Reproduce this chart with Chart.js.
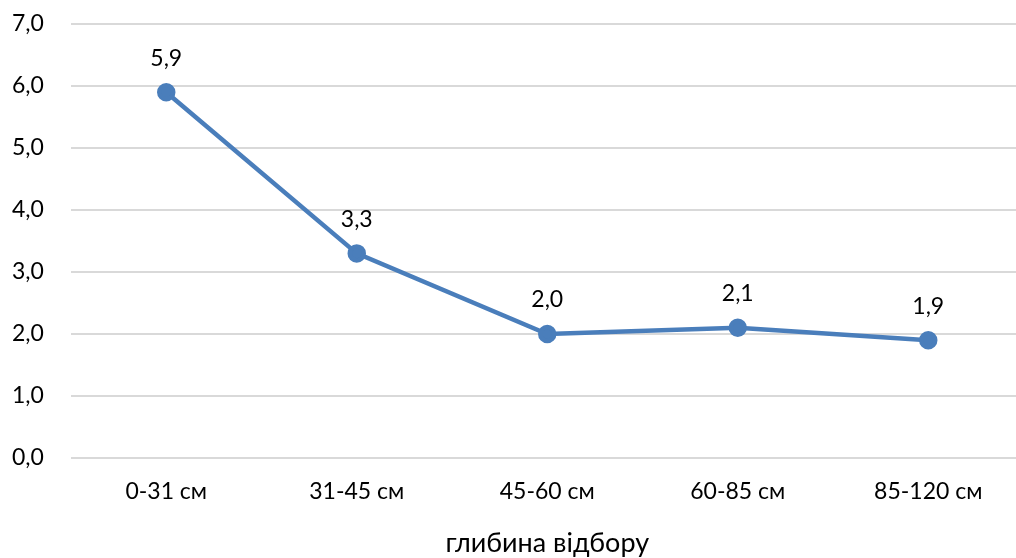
<!DOCTYPE html>
<html><head><meta charset="utf-8">
<script src="https://cdn.jsdelivr.net/npm/chart.js@4/dist/chart.umd.min.js"></script>
<style>html,body{margin:0;padding:0;overflow:hidden;background:#fff}#wrap{width:1035px;height:561px;position:relative}</style>
</head><body><div id="wrap"><canvas id="c"></canvas></div>
<script>
const categories = ['0-31 см', '31-45 см', '45-60 см', '60-85 см', '85-120 см'];
const values = [5.9, 3.3, 2.0, 2.1, 1.9];
const yTicks = [0, 1, 2, 3, 4, 5, 6, 7];
const xTitle = 'глибина відбору';
const fmt = v => v.toFixed(1).replace('.', ',');
const FONT = 'Lato, "Open Sans", sans-serif';

const labelPlugin = {
  id: 'pointLabels',
  afterDatasetsDraw(chart) {
    const ctx = chart.ctx;
    const meta = chart.getDatasetMeta(0);
    ctx.save();
    ctx.font = '23px ' + FONT;
    ctx.fillStyle = '#000';
    ctx.textAlign = 'center';
    ctx.textBaseline = 'middle';
    meta.data.forEach((pt, i) => {
      ctx.fillText(fmt(values[i]), pt.x, pt.y - 34);
    });
    ctx.restore();
  }
};

new Chart(document.getElementById('c'), {
  type: 'line',
  data: {
    labels: categories,
    datasets: [{
      data: values,
      borderColor: '#4a7ebb',
      backgroundColor: '#4a7ebb',
      borderWidth: 4.5,
      pointRadius: 7,
      pointHoverRadius: 7,
      pointBackgroundColor: '#4a7ebb',
      pointBorderColor: '#4a7ebb',
      tension: 0
    }]
  },
  options: {
    responsive: true,
    maintainAspectRatio: false,
    animation: false,
    layout: { padding: { top: 24, right: 0, left: 12, bottom: 0 } },
    plugins: { legend: { display: false }, tooltip: { enabled: false } },
    scales: {
      x: {
        offset: true,
        grid: { display: false, drawTicks: false },
        border: { display: false },
        ticks: { color: '#000', font: { size: 23, family: FONT }, padding: 20, maxRotation: 0 },
        title: { display: true, text: xTitle, color: '#000', font: { size: 27, family: FONT }, padding: { top: 0, bottom: 2 } },
        afterFit(s) { s.height = 103; }
      },
      y: {
        min: 0, max: 7,
        afterBuildTicks(s) { s.ticks = yTicks.map(v => ({ value: v })); },
        grid: { color: '#d9d9d9', lineWidth: 2, drawTicks: false },
        border: { display: false },
        ticks: { color: '#000', font: { size: 23, family: FONT }, padding: 0, crossAlign: 'far', callback: v => fmt(v) },
        afterFit(s) { s.width = 59; }
      }
    }
  },
  plugins: [labelPlugin]
});
</script></body></html>
